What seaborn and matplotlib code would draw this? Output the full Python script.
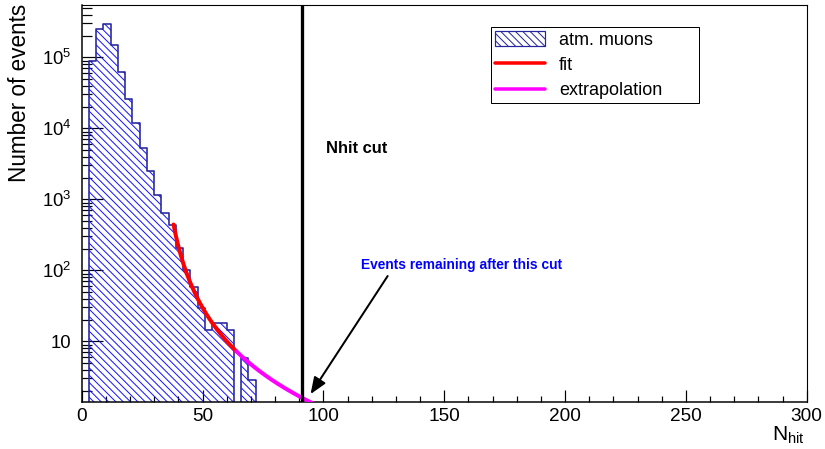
import numpy as np
import pandas as pd
import matplotlib
matplotlib.use("Agg")
import matplotlib.pyplot as plt
from matplotlib.patches import Patch
from matplotlib.lines import Line2D
from matplotlib.ticker import (FixedLocator, FixedFormatter, LogLocator,
                               MultipleLocator, NullFormatter)
import seaborn as sns

# ---------------------------------------------------------------------------
# Data: N_hit distribution of atmospheric-muon events (3-hit wide bins)
# ---------------------------------------------------------------------------
bin_edges = [0, 3, 6, 9, 12, 15, 18, 21, 24, 27, 30, 33, 36, 39, 42, 45, 48,
             51, 54, 57, 60, 63, 66, 69, 72, 75]
event_counts = [0, 9.0e4, 2.48e5, 2.92e5, 1.47e5, 6.3e4, 2.6e4, 1.18e4,
                5.3e3, 2.5e3, 1.16e3, 647, 435, 204, 101, 59, 29.2,
                14.4, 17.9, 17.9, 14.4, 0, 5.8, 2.9, 0]

# Power-law fit of the tail: N(x) = A * (x - x0)^(-n)
fit_amplitude = 10 ** 4.557
fit_offset = 32.0
fit_index = 2.456
fit_range = (38.0, 64.0)
extrapolation_range = (64.0, 96.0)

nhit_cut = 91

x_ticks = [0, 50, 100, 150, 200, 250, 300]
x_tick_labels = ["0", "50", "100", "150", "200", "250", "300"]
y_ticks = [1e1, 1e2, 1e3, 1e4, 1e5]
y_tick_labels = ["10", "$10^{2}$", "$10^{3}$", "$10^{4}$", "$10^{5}$"]

legend_labels = ["atm. muons", "fit", "extrapolation"]

# ---------------------------------------------------------------------------
DPI = 88


def px(v):
    """Convert a size in pixels to points for this figure resolution."""
    return v * 72.0 / DPI


HATCH_BLUE = "#1515ff"
OUTLINE_BLUE = "#25259e"
HATCH = "\\\\\\\\"   # fine back-diagonal hatching

sns.set_theme(style="ticks")
plt.rcParams.update({
    "mathtext.fontset": "custom",
    "mathtext.rm": "Liberation Sans",
    "mathtext.it": "Liberation Sans:italic",
    "mathtext.bf": "Liberation Sans:bold",
    "mathtext.default": "regular",
    "hatch.linewidth": px(1.0),
    "hatch.color": HATCH_BLUE,
    "axes.edgecolor": "black",
    "axes.labelcolor": "black",
    "text.color": "black",
    "xtick.color": "black",
    "ytick.color": "black",
})
plt.rcParams["font.family"] = ["Liberation Sans", "DejaVu Sans"]


def fit_function(x):
    return fit_amplitude * (np.asarray(x) - fit_offset) ** (-fit_index)


fig = plt.figure(figsize=(825 / DPI, 449 / DPI), dpi=DPI)
fig.patch.set_facecolor("white")
ax = fig.add_axes([81.7 / 825, 1 - 402 / 449, 725 / 825, 397 / 449])
ax.set_facecolor("white")

centers = [(a + b) / 2 for a, b in zip(bin_edges[:-1], bin_edges[1:])]
hist_df = pd.DataFrame({"nhit": centers, "events": event_counts})

# hatched body of the histogram
sns.histplot(data=hist_df, x="nhit", weights="events", bins=bin_edges,
             element="step", fill=True, color=HATCH_BLUE, ax=ax)
for coll in ax.collections:
    coll.set_alpha(1)
    coll.set_facecolor("none")
    coll.set_edgecolor(HATCH_BLUE)
    coll.set_linewidth(0)
    coll.set_hatch(HATCH)

# step outline
sns.histplot(data=hist_df, x="nhit", weights="events", bins=bin_edges,
             element="step", fill=False, color=OUTLINE_BLUE,
             linewidth=px(1.6), ax=ax)

ax.set_yscale("log")

# fit and its extrapolation
fit_x = np.linspace(*fit_range, 300)
ext_x = np.linspace(*extrapolation_range, 300)
sns.lineplot(x=fit_x, y=fit_function(fit_x), color="#ff0000",
             linewidth=px(4), ax=ax, legend=False, zorder=4)
sns.lineplot(x=ext_x, y=fit_function(ext_x), color="#ff00ff",
             linewidth=px(4), ax=ax, legend=False, zorder=4)

# cut position
ax.axvline(nhit_cut, color="black", linewidth=px(3.3), zorder=5)

ax.set_xlim(0, 300)
ax.set_ylim(1.4, 5.46e5)

# axes, ticks
ax.xaxis.set_major_locator(FixedLocator(x_ticks))
ax.xaxis.set_major_formatter(FixedFormatter(x_tick_labels))
ax.xaxis.set_minor_locator(MultipleLocator(10))
ax.yaxis.set_major_locator(FixedLocator(y_ticks))
ax.yaxis.set_major_formatter(FixedFormatter(y_tick_labels))
ax.yaxis.set_minor_locator(LogLocator(base=10, subs=[2, 3, 4, 5, 6, 7, 8, 9],
                                      numticks=30))
ax.yaxis.set_minor_formatter(NullFormatter())

ax.tick_params(axis="x", which="major", direction="in", length=px(12),
               width=px(1.2), pad=px(6), labelsize=px(19), top=False)
ax.tick_params(axis="x", which="minor", direction="in", length=px(6.5),
               width=px(1.2), top=False)
ax.tick_params(axis="y", which="major", direction="in", length=px(21),
               width=px(1.2), pad=px(10), labelsize=px(18.5), right=False)
ax.tick_params(axis="y", which="minor", direction="in", length=px(10),
               width=px(1.2), right=False)

for side, spine in ax.spines.items():
    spine.set_visible(True)
    spine.set_color("black")
    spine.set_linewidth(px(1.5) if side in ("left", "bottom") else px(1.1))

ax.set_ylabel("Number of events", fontsize=px(22.5), loc="top")
ax.yaxis.set_label_coords(-0.0703, 1.004)
ax.set_xlabel(r"N$_{hit}$", fontsize=px(21), loc="right")
ax.xaxis.set_label_coords(0.9977, -0.058)

# annotations
ax.text(101.1, 4446, "Nhit cut", fontsize=px(16.5), fontweight="bold",
        ha="left", va="baseline")
ax.text(115.6, 103, "Events remaining after this cut", color="#0000ff",
        fontsize=px(13.7), fontweight="bold", ha="left", va="baseline")
ax.annotate("", xy=(94.7, 1.81), xytext=(126.6, 83.2),
            arrowprops=dict(arrowstyle="-|>,head_length=0.7,head_width=0.28",
                            color="black", lw=px(2), mutation_scale=px(20),
                            shrinkA=0, shrinkB=0), zorder=6)

# legend
handles = [
    Patch(facecolor="none", edgecolor=OUTLINE_BLUE, hatch=HATCH,
          linewidth=px(1.2)),
    Line2D([], [], color="#ff0000", linewidth=px(3.5)),
    Line2D([], [], color="#ff00ff", linewidth=px(3.5)),
]
leg = ax.legend(handles, legend_labels, loc="upper left",
                bbox_to_anchor=(0.5646, 0.755, 0.2869, 0.1888), mode="expand",
                borderaxespad=0, frameon=True, fancybox=False,
                fontsize=px(18), handlelength=2.8, handleheight=0.92,
                handletextpad=0.75, labelspacing=0.41, borderpad=0.22)
leg.get_frame().set_edgecolor("black")
leg.get_frame().set_linewidth(px(1.0))
leg.get_frame().set_alpha(1)

fig.savefig("out.png", dpi=DPI, facecolor="white")
